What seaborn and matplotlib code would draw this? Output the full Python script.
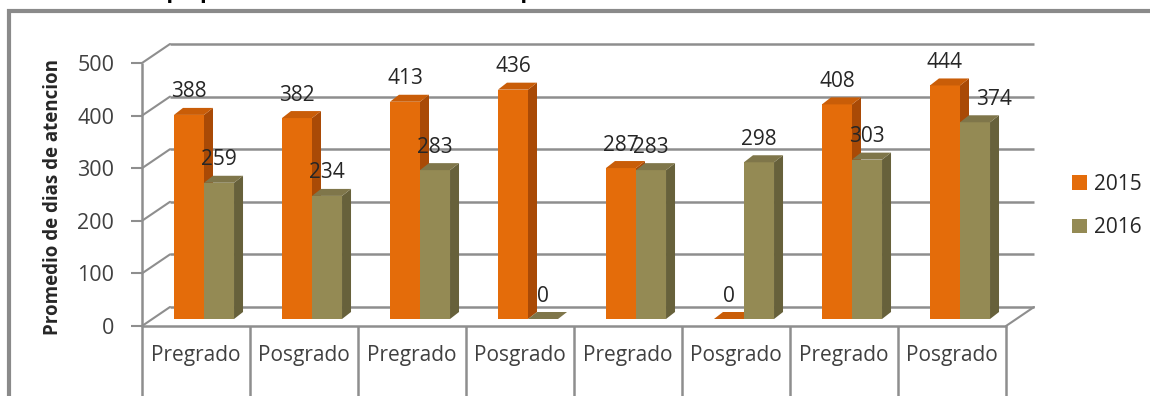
import matplotlib
matplotlib.use("Agg")
import matplotlib.pyplot as plt
import matplotlib.transforms as mtransforms
from matplotlib.patches import Polygon, Rectangle, Patch
import seaborn as sns
import pandas as pd

# ---- data -------------------------------------------------------------
categories = ["Pregrado", "Posgrado", "Pregrado", "Posgrado",
              "Pregrado", "Posgrado", "Pregrado", "Posgrado"]
years = ["2015", "2016"]
dias_2015 = [388, 382, 413, 436, 287, 0, 408, 444]
dias_2016 = [259, 234, 283, 0, 283, 298, 303, 374]
y_ticks = [0, 100, 200, 300, 400, 500]
title = "Gráfica 8. Tiempo promedio de atención en los procesos"
y_title = "Promedio de dias de atencion"

# ---- style ------------------------------------------------------------
sns.set_theme(style="white")
plt.rcParams["font.family"] = ["Open Sans", "DejaVu Sans"]

ORANGE = "#E46C0A"
OLIVE = "#948A54"
FACE_SIDE = {"2015": "#A94A06", "2016": "#67613B"}
FACE_TOP = {"2015": "#C95D08", "2016": "#7F764A"}
GRID = "#8E8E8E"
TEXT = "#404040"

W, H, DPI = 1150, 396, 100
fig = plt.figure(figsize=(W / DPI, H / DPI), dpi=DPI)
fig.patch.set_facecolor("white")

# front plane of the 3-D box, in pixels
left_px, right_px, zero_px, top_px = 142, 1006, 326, 63
ax = fig.add_axes([left_px / W, (H - zero_px) / H,
                   (right_px - left_px) / W, (zero_px - top_px) / H])
ax.set_facecolor("none")

n = len(categories)
px_per_cat = (right_px - left_px) / n
px_per_unit = (zero_px - top_px) / 500.0

df = pd.DataFrame({
    "grupo": list(range(n)) * 2,
    "anio": [years[0]] * n + [years[1]] * n,
    "dias": dias_2015 + dias_2016,
})

sns.barplot(data=df, x="grupo", y="dias", hue="anio", hue_order=years,
            palette=[ORANGE, OLIVE], width=0.556, gap=0, saturation=1,
            legend=False, ax=ax)
ax.set_xlim(-0.5, n - 0.5)
ax.set_ylim(0, 500)

# depth offsets (dots)
back = mtransforms.offset_copy(ax.transData, fig=fig, x=28, y=19, units="dots")
mid = mtransforms.offset_copy(ax.transData, fig=fig, x=8, y=7, units="dots")
ddx = 9 / px_per_cat
ddy = 7 / px_per_unit

# back wall gridlines and the connecting diagonals
for t in y_ticks:
    ax.plot([-0.5, n - 0.5], [t, t], transform=back, color=GRID, lw=1.8,
            zorder=1, clip_on=False, solid_capstyle="butt")
    x0d, y0d = ax.transData.transform((-0.5, t))
    x1d, y1d = back.transform((-0.5, t))
    ax.plot([x0d, x1d], [y0d, y1d], transform=None, color=GRID, lw=1.5,
            zorder=1, clip_on=False)

# floor front edge and right diagonal
ax.plot([-0.5, n - 0.5], [0, 0], color=GRID, lw=1.8, zorder=1.5, clip_on=False)
xa, ya = ax.transData.transform((n - 0.5, 0))
xb, yb = back.transform((n - 0.5, 0))
ax.plot([xa, xb], [ya, yb], transform=None, color=GRID, lw=1.5,
        zorder=1.5, clip_on=False)

# category cell separators (first one doubles as value axis)
for i in range(n + 1):
    top = 500 if i == 0 else 0
    ax.plot([i - 0.5, i - 0.5], [-200, top], color=GRID, lw=1.8,
            zorder=1.5, clip_on=False, solid_capstyle="butt")

# 3-D bars: move front faces to the middle plane, add side and top faces
label_nudge = {(7, "2016"): 19}
for k, (year, container) in enumerate(zip(years, ax.containers)):
    for i, bar in enumerate(container):
        z = 3 + k + i * 0.01
        bar.set_transform(mid)
        bar.set_zorder(z)
        bar.set_linewidth(0)
        x0, w, h = bar.get_x(), bar.get_width(), bar.get_height()
        side = Polygon([(x0 + w, 0), (x0 + w + ddx, ddy),
                        (x0 + w + ddx, h + ddy), (x0 + w, h)],
                       closed=True, transform=mid, fc=FACE_SIDE[year],
                       ec="none", zorder=z, clip_on=False)
        topf = Polygon([(x0, h), (x0 + ddx, h + ddy),
                        (x0 + w + ddx, h + ddy), (x0 + w, h)],
                       closed=True, transform=mid, fc=FACE_TOP[year],
                       ec="none", zorder=z, clip_on=False)
        ax.add_patch(side)
        ax.add_patch(topf)
        ax.annotate(f"{int(h)}", xy=(x0 + w / 2, h), xycoords=mid,
                    xytext=(label_nudge.get((i, year), 0), 23),
                    textcoords="offset pixels", ha="center", va="center",
                    fontsize=15, color="#262626", zorder=10,
                    annotation_clip=False)

# axes decoration
for s in ax.spines.values():
    s.set_visible(False)
ax.set_yticks(y_ticks)
ax.set_yticklabels([str(t) for t in y_ticks], fontsize=15.5, color=TEXT)
ax.tick_params(axis="y", which="both", left=True, length=8, width=1.5,
               color=GRID, pad=12, direction="out")
ax.set_xticks(range(n))
ax.set_xticklabels(categories, fontsize=15, color=TEXT)
ax.tick_params(axis="x", length=0, pad=14)
ax.set_xlabel("")
ax.set_ylabel(y_title, fontsize=13.5, fontweight="bold", color="#262626")
ax.yaxis.set_label_coords(-0.092, 0.49)
ax.grid(False)

# legend
handles = [Patch(facecolor=ORANGE, edgecolor="none"),
           Patch(facecolor=OLIVE, edgecolor="none")]
leg = fig.legend(handles, years, loc="center left",
                 bbox_to_anchor=(1062 / W, 1 - 206 / H), frameon=False,
                 fontsize=15, handlelength=0.7, handleheight=0.7,
                 handletextpad=0.35, labelspacing=1.1, borderpad=0)
for t in leg.get_texts():
    t.set_color("#262626")

# chart frame
fig.patches.append(Rectangle((8.5 / W, -0.2), 1.2, 1.2 - 11 / H,
                             transform=fig.transFigure, fill=False,
                             ec="#8A8A8A", lw=3, zorder=0))

# title sitting above the frame
fig.text(2 / W, 1 + 1.5 / H, title, fontsize=16, fontweight="bold",
         color="black", ha="left", va="baseline")

fig.savefig("out.png", dpi=DPI, facecolor="white")
